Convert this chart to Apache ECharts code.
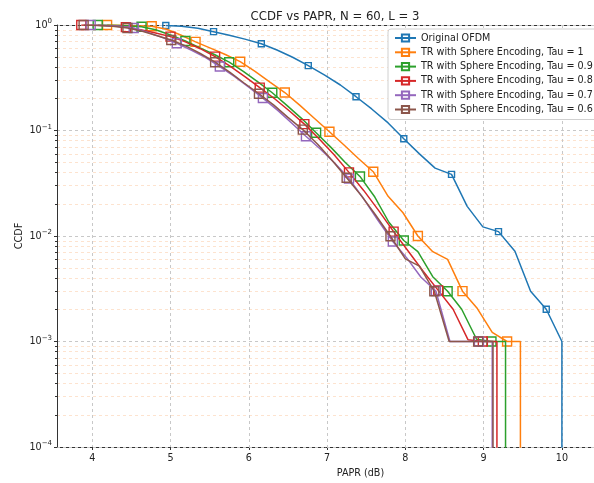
<!DOCTYPE html>
<html><head><meta charset="utf-8">
<script src="https://cdn.jsdelivr.net/npm/echarts@6/dist/echarts.min.js"></script>
<style>html,body{margin:0;padding:0;background:#fff}#c{width:594px;height:483px}</style>
</head><body><div id="c"></div>
<script>
const seriesNames = ['Original OFDM','TR with Sphere Encoding, Tau = 1','TR with Sphere Encoding, Tau = 0.9','TR with Sphere Encoding, Tau = 0.8','TR with Sphere Encoding, Tau = 0.7','TR with Sphere Encoding, Tau = 0.6'];
const colors = ['#1f77b4','#ff7f0e','#2ca02c','#d62728','#9467bd','#8c564b'];
const xTicks = [4,5,6,7,8,9,10];
const yTicks = [1e-4,1e-3,1e-2,1e-1,1];
const yMinor = [2e-4,3e-4,4e-4,5e-4,6e-4,7e-4,8e-4,9e-4,2e-3,3e-3,4e-3,5e-3,6e-3,7e-3,8e-3,9e-3,2e-2,3e-2,4e-2,5e-2,6e-2,7e-2,8e-2,9e-2,0.2,0.3,0.4,0.5,0.6,0.7,0.8,0.9];
const ZERO = 1e-9; // stands for CCDF = 0 (drawn off the bottom of the log axis)

const xOrig = [4.94,5.14,5.35,5.55,5.75,5.95,6.16,6.36,6.56,6.76,6.97,7.17,7.37,7.57,7.78,7.98,8.18,8.38,8.59,8.79,8.99,9.19,9.40,9.60,9.80,10.00,10.00];
const yOrig = [0.99,0.975,0.93,0.865,0.80,0.735,0.665,0.58,0.495,0.412,0.335,0.27,0.209,0.16,0.118,0.0835,0.06,0.044,0.0384,0.0191,0.0122,0.011,0.00718,0.003,0.00202,0.001,ZERO];

const xTau10 = [4.19,4.38,4.57,4.76,4.95,5.13,5.32,5.51,5.70,5.89,6.08,6.27,6.46,6.65,6.84,7.03,7.22,7.40,7.59,7.78,7.97,8.16,8.35,8.54,8.73,8.92,9.11,9.30,9.47,9.47];
const yTau10 = [1,0.995,0.986,0.972,0.912,0.804,0.692,0.603,0.525,0.449,0.363,0.288,0.229,0.174,0.130,0.0973,0.0724,0.0543,0.0407,0.0238,0.0166,0.0100,0.0071,0.006,0.003,0.00205,0.00122,0.001,0.001,ZERO];

const xTau09 = [4.07,4.26,4.44,4.63,4.81,5.00,5.19,5.37,5.56,5.75,5.93,6.12,6.30,6.49,6.68,6.86,7.05,7.23,7.42,7.61,7.79,7.98,8.16,8.35,8.54,8.72,8.91,9.10,9.28,9.28];
const yTau09 = [1,0.995,0.984,0.964,0.902,0.804,0.706,0.610,0.525,0.444,0.363,0.288,0.228,0.172,0.129,0.0953,0.0692,0.0501,0.0367,0.0234,0.0135,0.00906,0.0071,0.00411,0.00299,0.00202,0.00105,0.001,0.001,ZERO];

const xTau08 = [3.86,4.05,4.24,4.43,4.62,4.81,5.00,5.19,5.38,5.57,5.76,5.95,6.14,6.33,6.52,6.71,6.90,7.09,7.28,7.47,7.66,7.85,8.04,8.23,8.42,8.61,8.80,8.99,9.17,9.17];
const yTau08 = [1,0.995,0.982,0.955,0.902,0.841,0.776,0.692,0.596,0.501,0.407,0.324,0.255,0.200,0.153,0.115,0.0832,0.0589,0.0401,0.0269,0.0174,0.0110,0.00713,0.00461,0.00305,0.00202,0.00104,0.001,0.001,ZERO];

const xTau07 = [3.98,4.16,4.35,4.53,4.71,4.90,5.08,5.27,5.45,5.63,5.82,6.00,6.18,6.37,6.55,6.73,6.92,7.10,7.28,7.47,7.65,7.84,8.02,8.20,8.39,8.57,8.75,8.94,9.11,9.11];
const yTau07 = [1,0.991,0.973,0.938,0.851,0.759,0.671,0.575,0.490,0.404,0.324,0.257,0.203,0.155,0.117,0.0883,0.0661,0.0490,0.0350,0.0224,0.0141,0.00887,0.00617,0.00407,0.00301,0.001,0.001,0.001,0.001,ZERO];

const xTau06 = [3.89,4.08,4.26,4.45,4.64,4.82,5.01,5.20,5.38,5.57,5.76,5.94,6.13,6.32,6.50,6.69,6.88,7.06,7.25,7.44,7.62,7.81,8.00,8.18,8.37,8.56,8.74,8.93,9.12,9.12];
const yTau06 = [1,0.991,0.973,0.938,0.871,0.794,0.721,0.631,0.537,0.444,0.355,0.282,0.223,0.174,0.133,0.102,0.0741,0.0525,0.0357,0.0240,0.0158,0.00995,0.00608,0.00519,0.00299,0.001,0.001,0.001,0.001,ZERO];

const allX = [xOrig,xTau10,xTau09,xTau08,xTau07,xTau06];
const allY = [yOrig,yTau10,yTau09,yTau08,yTau07,yTau06];
const markEvery = 3;

function yLabel(v){
  const e = Math.round(Math.log10(v));
  return '{b|10}{e|' + (e<0?'−':'') + Math.abs(e) + '}';
}

const series = seriesNames.map((name,k)=>({
  name, type:'line', xAxisIndex:0, yAxisIndex:0,
  data: allX[k].map((x,i)=> (i % markEvery === 0 && allY[k][i] > ZERO) ? {value:[x,allY[k][i]]} : {value:[x,allY[k][i]], symbol:'none'}),
  symbol:'rect', symbolSize: k===0 ? 6 : 9, showAllSymbol:true,
  lineStyle:{color:colors[k], width:1.5},
  itemStyle:{color:'rgba(255,255,255,0)', borderColor:colors[k], borderWidth:1.4},
  emphasis:{disabled:true}, animation:false, clip:true, z: 2+k
}));

const chart = echarts.init(document.getElementById('c'), null, {renderer:'canvas'});
chart.setOption({
  animation:false,
  title:{text:'CCDF vs PAPR, N = 60, L = 3', left:330, top:6, textAlign:'center',
    textStyle:{fontFamily:'DejaVu Sans', fontSize:11.7, fontWeight:'normal', color:'#222'}},
  grid:{left:57, top:25, right:0, height:423},
  legend:{orient:'vertical', left:388, top:29, itemWidth:21, itemHeight:9, itemGap:2.3,
    padding:[3,6,4,6], backgroundColor:'#fff', borderColor:'#d0d0d0', borderWidth:1, borderRadius:3,
    textStyle:{fontFamily:'DejaVu Sans', fontSize:9.6, color:'#222', lineHeight:12}, data:seriesNames},
  xAxis:[{type:'value', min:3.55, max:10.41, position:'bottom',
    name:'PAPR (dB)', nameLocation:'middle', nameGap:21,
    nameTextStyle:{fontFamily:'DejaVu Sans', fontSize:9.6, color:'#222', padding:[0,0,0,70]},
    axisLine:{show:true, onZero:false, lineStyle:{color:'#333', width:1}},
    axisTick:{show:true, length:3, customValues:xTicks, lineStyle:{color:'#333'}},
    axisLabel:{customValues:xTicks, fontFamily:'DejaVu Sans', fontSize:9.6, color:'#222', margin:6},
    splitLine:{show:true, lineStyle:{color:'#c8c8c8', type:[3,3], width:1}}},
    {type:'value', min:3.55, max:10.41, position:'top', gridIndex:0,
    axisLine:{show:true, onZero:false, lineStyle:{color:'#333', width:1}},
    axisTick:{show:false}, axisLabel:{show:false}, splitLine:{show:false}}],
  yAxis:[{type:'log', logBase:10, min:1e-4, max:1, position:'left',
    name:'CCDF', nameLocation:'middle', nameGap:33, nameRotate:90, nameMoveOverlap:false,
    nameTextStyle:{fontFamily:'DejaVu Sans', fontSize:9.6, color:'#222'},
    axisLine:{show:true, onZero:false, lineStyle:{color:'#333', width:1}},
    axisTick:{show:true, length:3, customValues:yTicks, lineStyle:{color:'#333'}},
    axisLabel:{customValues:yTicks, formatter:yLabel, margin:5,
      rich:{b:{fontFamily:'DejaVu Sans', fontSize:9.6, color:'#222'},
            e:{fontFamily:'DejaVu Sans', fontSize:7, color:'#222', padding:[0,0,7,0]}}},
    splitLine:{show:true, lineStyle:{color:'#c8c8c8', type:[3,3], width:1}}, z:1},
    {type:'log', logBase:10, min:1e-4, max:1, position:'left', gridIndex:0,
    axisLine:{show:false}, axisLabel:{show:false},
    axisTick:{show:true, length:2, customValues:yMinor, lineStyle:{color:'#333'}},
    splitLine:{show:true, lineStyle:{color:'#fde3cf', type:[3,3], width:1}}, z:0}],
  series
});
</script></body></html>
